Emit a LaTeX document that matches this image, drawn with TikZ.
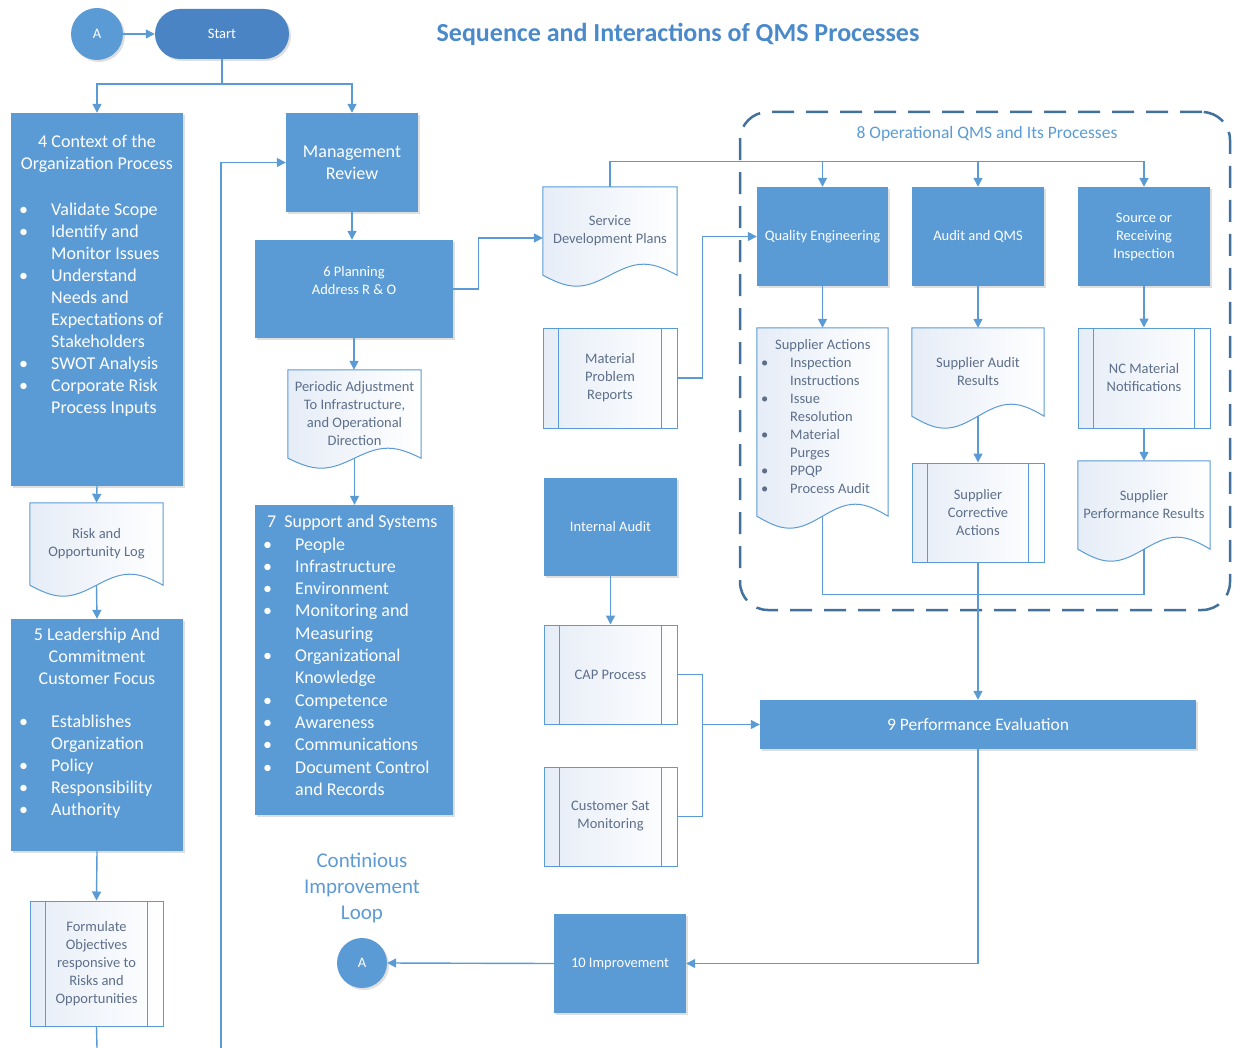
\documentclass[tikz,border=0pt]{standalone}
\usepackage{fontspec}
\setmainfont{Carlito}
\usetikzlibrary{arrows.meta,calc,shadows,backgrounds}
\definecolor{boxblue}{HTML}{5B9BD5}
\definecolor{startblue}{HTML}{4A84C4}
\definecolor{lineblue}{HTML}{5B9BD5}
\definecolor{dashblue}{HTML}{41719C}
\definecolor{doctext}{HTML}{5D6F8A}
\definecolor{titleblue}{HTML}{4A8ACB}
\definecolor{docedge}{HTML}{5B9BD5}
\definecolor{docfill}{HTML}{E6EDF7}
\definecolor{loopblue}{HTML}{5E9AD3}
\newcommand\bigf{\fontsize{18}{22}\selectfont}
\newcommand\smallf{\fontsize{14.5}{18}\selectfont}
\newcommand\bitem[2][32pt]{\makebox[#1][l]{\textbullet}#2}
\newcommand\bcont[2][32pt]{\hspace*{#1}#2}
\newcommand\docoutline[2]{%
 \draw[docline] (#1.north west) -- (#1.north east) -- (#1.south east)
  sin ($(#1.south east)!0.25!(#1.south west)+(0,-#2)$)
  cos ($(#1.south east)!0.5!(#1.south west)$)
  sin ($(#1.south east)!0.75!(#1.south west)+(0,#2)$)
  cos (#1.south west) -- cycle;}
\newcommand\predeflines[1]{\draw[draw=docedge,line width=1pt] ([xshift=16pt]#1.north west) -- ([xshift=16pt]#1.south west) ([xshift=-16pt]#1.north east) -- ([xshift=-16pt]#1.south east);}
\begin{document}
\begin{tikzpicture}[x=1pt,y=-1pt,
  bluebox/.style={fill=boxblue, draw=none, text=white, inner sep=0pt, align=center, drop shadow={opacity=0.25,shadow xshift=2pt,shadow yshift=-2pt}},
  conn/.style={draw=lineblue, line width=1.4pt, -{Triangle[length=9pt,width=9pt]}},
  plain/.style={draw=lineblue, line width=1.4pt},
  docnode/.style={inner sep=0pt, align=center, text=doctext, font=\smallf},
  predef/.style={docnode, draw=docedge, line width=1pt, left color=docfill, right color=white},
  docline/.style={draw=docedge, line width=1pt, left color=docfill, right color=white},
  wtext/.style={text=white, inner sep=0pt},
]
\useasboundingbox (0,0) rectangle (1233,1048);

% top
\node[circle, fill=boxblue, minimum size=52pt, text=white, font=\smallf, inner sep=0pt, drop shadow={opacity=0.25,shadow xshift=2pt,shadow yshift=-2pt}] (atop) at (97,34) {A};
\node[rounded corners=25pt, fill=startblue, minimum width=134pt, minimum height=50pt, text=white, font=\smallf, inner sep=0pt, drop shadow={opacity=0.25,shadow xshift=2pt,shadow yshift=-2pt}] (start) at (222,34) {Start};
\node[font=\fontsize{26}{30}\selectfont\bfseries, text=titleblue] (title) at (678,34) {Sequence and Interactions of QMS Processes};

% left column
\node[bluebox, minimum width=172pt, minimum height=373pt] (ctx) at (97,299.5) {};
\node[wtext, font=\bigf, align=center] (ctxT) at (97,154) {4 Context of the\\Organization Process};
\node[wtext, font=\bigf, align=left, anchor=north west] (ctxL) at (19,203) {\bitem{Validate Scope}\\\bitem{Identify and}\\\bcont{Monitor Issues}\\\bitem{Understand}\\\bcont{Needs and}\\\bcont{Expectations of}\\\bcont{Stakeholders}\\\bitem{SWOT Analysis}\\\bitem{Corporate Risk}\\\bcont{Process Inputs}};

\node[docnode, minimum width=133pt, minimum height=82pt] (risk) at (96.5,544) {Risk and\\Opportunity Log};

\node[bluebox, minimum width=172pt, minimum height=232pt] (lead) at (97,735) {};
\node[wtext, font=\bigf, align=center] (leadT) at (97,656.5) {5 Leadership And\\Commitment\\Customer Focus};
\node[wtext, font=\bigf, align=left, anchor=north west] (leadL) at (19,715) {\bitem{Establishes}\\\bcont{Organization}\\\bitem{Policy}\\\bitem{Responsibility}\\\bitem{Authority}};

\node[predef, minimum width=133pt, minimum height=125pt] (form) at (96.5,963.5) {Formulate\\Objectives\\responsive to\\Risks and\\Opportunities};

% second column
\node[bluebox, minimum width=132pt, minimum height=99pt, font=\bigf] (mgmt) at (352,162.5) {Management\\Review};
\node[bluebox, minimum width=198pt, minimum height=98pt, font=\smallf] (plan) at (354,289) {6 Planning\\Address R \& O\\\mbox{}};
\node[docnode, minimum width=133pt, minimum height=88pt] (periodic) at (354.5,414) {Periodic Adjustment\\To Infrastructure,\\and Operational\\Direction};
\node[bluebox, minimum width=198pt, minimum height=310pt] (support) at (354,660) {};
\node[wtext, font=\fontsize{18}{22.3}\selectfont, align=left, anchor=north west] (supportL) at (263,515) {\hspace*{4pt}7\hspace{8pt}Support and Systems\\\bitem{People}\\\bitem{Infrastructure}\\\bitem{Environment}\\\bitem{Monitoring and}\\\bcont{Measuring}\\\bitem{Organizational}\\\bcont{Knowledge}\\\bitem{Competence}\\\bitem{Awareness}\\\bitem{Communications}\\\bitem{Document Control}\\\bcont{and Records}};

\node[text=loopblue, font=\fontsize{21}{26}\selectfont, align=center] (cont) at (362,888) {Continious\\Improvement\\Loop};
\node[circle, fill=boxblue, minimum size=50pt, text=white, font=\smallf, inner sep=0pt, drop shadow={opacity=0.25,shadow xshift=2pt,shadow yshift=-2pt}] (abot) at (362,963) {A};

% third column
\node[docnode, minimum width=134pt, minimum height=88pt] (service) at (610,231) {Service\\Development Plans};
\node[predef, minimum width=134pt, minimum height=100pt] (mpr) at (610,378) {Material\\Problem\\Reports};
\node[bluebox, minimum width=133pt, minimum height=98pt, font=\smallf] (ia) at (610.5,527) {Internal Audit};
\node[predef, minimum width=133pt, minimum height=99pt] (cap) at (610.5,674.5) {CAP Process};
\node[predef, minimum width=133pt, minimum height=99pt] (csm) at (610.5,816.5) {Customer Sat\\Monitoring};
\node[bluebox, minimum width=132pt, minimum height=99pt, font=\smallf] (imp) at (620,963.5) {10 Improvement};

% operational region
\node[draw=dashblue, line width=2.5pt, dash pattern=on 22pt off 12pt, rounded corners=28pt, minimum width=490pt, minimum height=498pt, inner sep=0pt] (opreg) at (985,361) {};
\node[text=boxblue, font=\fontsize{17.5}{21}\selectfont] (opregT) at (987,134) {8 Operational QMS and Its Processes};

\node[bluebox, minimum width=131pt, minimum height=99pt, font=\smallf] (qe) at (822.5,236.5) {Quality Engineering};
\node[bluebox, minimum width=132pt, minimum height=99pt, font=\smallf] (aud) at (978,236.5) {Audit and QMS};
\node[bluebox, minimum width=132pt, minimum height=99pt, font=\smallf] (src) at (1144,236.5) {Source or\\Receiving\\Inspection};

\node[docnode, minimum width=131pt, minimum height=188pt] (sa) at (822.5,422) {};
\node[text=doctext, font=\smallf, align=left, anchor=north west, inner sep=0pt] (saL) at (761,339) {\hspace*{14pt}Supplier Actions\\\bitem[29pt]{Inspection}\\\bcont[29pt]{Instructions}\\\bitem[29pt]{Issue}\\\bcont[29pt]{Resolution}\\\bitem[29pt]{Material}\\\bcont[29pt]{Purges}\\\bitem[29pt]{PPQP}\\\bitem[29pt]{Process Audit}};
\node[docnode, minimum width=132pt, minimum height=88pt] (sar) at (978,372) {Supplier Audit\\Results};
\node[predef, minimum width=132pt, minimum height=100pt] (nc) at (1144,378) {NC Material\\Notifications};
\node[predef, minimum width=132pt, minimum height=99pt] (sca) at (978,512.5) {Supplier\\Corrective\\Actions};
\node[docnode, minimum width=132pt, minimum height=88pt] (spr) at (1144,505) {Supplier\\Performance Results};

\node[bluebox, minimum width=436pt, minimum height=49pt, font=\fontsize{17.5}{21}\selectfont] (perf) at (978,724.5) {9 Performance Evaluation};

% predefined-process inner lines
\predeflines{form}
\predeflines{mpr}
\predeflines{cap}
\predeflines{csm}
\predeflines{nc}
\predeflines{sca}

% document outlines
\begin{scope}[on background layer]
\docoutline{risk}{11}
\docoutline{periodic}{10}
\docoutline{service}{11}
\docoutline{sa}{12}
\docoutline{sar}{12}
\docoutline{spr}{12}
\end{scope}

% free ends
\coordinate (bl) at (97,1048);
\coordinate (lb) at (221,1048);
\coordinate (pj) at (702,724.5);

% connectors
\draw[conn] (atop) -- (start);
\draw[conn] (start.south) -- ++(0,25) -| (ctx.north);
\draw[conn] (start.south) -- ++(0,25) -| (mgmt.north);
\draw[conn] (ctx.south) -- (risk.north);
\draw[conn] (risk.south) -- (lead.north);
\draw[conn] (lead.south) -- (form.north);
\draw[plain] (form.south) -- (bl);
\draw[conn] (lb) |- (mgmt.west);
\draw[conn] (mgmt.south) -- (mgmt.south |- plan.north);
\draw[conn] (plan.south) -- (plan.south |- periodic.north);
\draw[conn] (periodic.south) -- (periodic.south |- support.north);
\draw[conn] (plan.east) -- ++(25,0) |- ([yshift=-7pt]service.west);
\draw[conn] (service.north) -- ++(0,-25) -| (qe.north);
\draw[conn] (service.north) -- ++(0,-25) -| (aud.north);
\draw[conn] (service.north) -- ++(0,-25) -| (src.north);
\draw[conn] (mpr.east) -- ++(25,0) |- (qe.west);
\draw[conn] (qe.south) -- (sa.north);
\draw[conn] (aud.south) -- (sar.north);
\draw[conn] (src.south) -- (nc.north);
\draw[conn] (sar.south) -- (sca.north);
\draw[conn] (nc.south) -- (spr.north);
\draw[plain] (sa.south) -- ++(0,78) -| (spr.south);
\draw[conn] (sca.south) -- (perf.north);
\draw[conn] (ia.south) -- (cap.north);
\draw[plain] (cap.east) -- ++(25,0) |- (csm.east);
\draw[conn] (pj) -- (perf.west);
\draw[conn] (perf.south) |- (imp.east);
\draw[conn] (imp.west) -- (abot.east);
\end{tikzpicture}
\end{document}
